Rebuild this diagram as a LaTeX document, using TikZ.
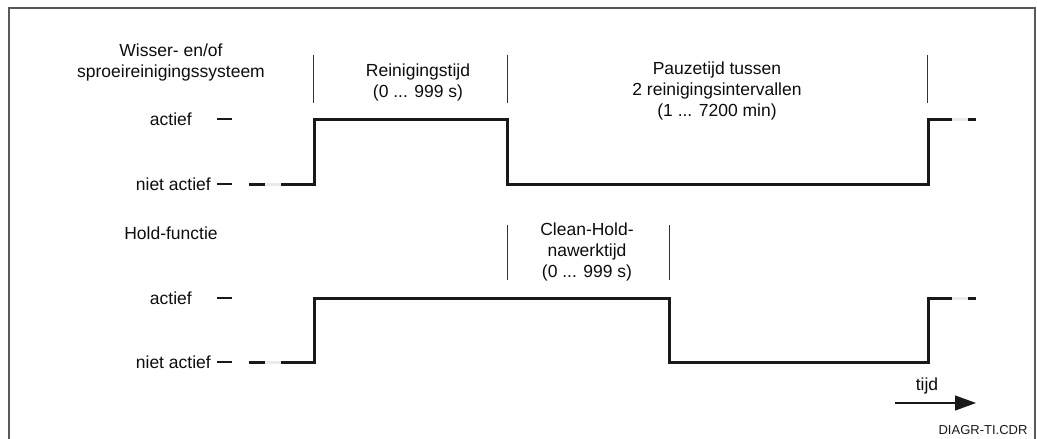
\documentclass[tikz,border=0pt]{standalone}
\usepackage{fontspec}
\setmainfont{Liberation Sans}
\usetikzlibrary{arrows.meta}
\begin{document}
\begin{tikzpicture}[x=1pt,y=-1pt,
  txt/.style={inner sep=0pt,font=\fontsize{17.5}{21}\selectfont,text=black!95,align=center},
  small/.style={inner sep=0pt,font=\fontsize{13}{15}\selectfont,text=black!90},
  sig/.style={line width=3pt,black!90,line join=miter},
  faint/.style={line width=3pt,black!8},
  sep/.style={line width=1pt,black!80},
  tick/.style={line width=1.2pt,black!90},
  frame/.style={line width=1.6pt,black!65}]
\useasboundingbox (0,0) rectangle (1037,439);
% frame (open at bottom)
\coordinate (fbl) at (9,440);
\coordinate (ftl) at (9,8);
\coordinate (ftr) at (1035,8);
\coordinate (fbr) at (1035,440);
\draw[frame] (fbl) -- (ftl) -- (ftr) -- (fbr);

% ---------- top diagram ----------
\node[txt] (wisser) at (171,62) {Wisser- en/of\\sproeireinigingssysteem};
\node[txt,anchor=east] (a1) at (192,119) {actief};
\node[txt,anchor=east] (n1) at (211,184) {niet actief};
\coordinate (a1t1) at (217,119); \coordinate (a1t2) at (232,119);
\coordinate (n1t1) at (217,184); \coordinate (n1t2) at (232,184);
\draw[tick] (a1t1) -- (a1t2);
\draw[tick] (n1t1) -- (n1t2);

\node[txt] (rein) at (418,82) {Reinigingstijd\\(0 ... 999 s)};
\node[txt] (pauze) at (717,91) {Pauzetijd tussen\\2 reinigingsintervallen\\(1 ... 7200 min)};

\coordinate (s1a) at (313,55); \coordinate (s1b) at (313,103);
\coordinate (s2a) at (507,55); \coordinate (s2b) at (507,103);
\coordinate (s3a) at (927,55); \coordinate (s3b) at (927,103);
\draw[sep] (s1a) -- (s1b);
\draw[sep] (s2a) -- (s2b);
\draw[sep] (s3a) -- (s3b);

\coordinate (t0) at (249,184);
\coordinate (t1) at (265,184);
\coordinate (t2) at (281,184);
\coordinate (t3) at (314,184);
\coordinate (t4) at (314,119);
\coordinate (t5) at (507,119);
\coordinate (t6) at (507,184);
\coordinate (t7) at (928,184);
\coordinate (t8) at (928,119);
\coordinate (t9) at (952,119);
\coordinate (t10) at (968,119);
\coordinate (t11) at (976,119);
\draw[faint] (t1) -- (t2);
\draw[faint] (t9) -- (t10);
\draw[sig] (t0) -- (t1);
\draw[sig] (t2) -- (t3) -- (t4) -- (t5) -- (t6) -- (t7) -- (t8) -- (t9);
\draw[sig] (t10) -- (t11);

% ---------- bottom diagram ----------
\node[txt] (hold) at (171,233) {Hold-functie};
\node[txt,anchor=east] (a2) at (192,298) {actief};
\node[txt,anchor=east] (n2) at (211,362) {niet actief};
\coordinate (a2t1) at (217,298); \coordinate (a2t2) at (232,298);
\coordinate (n2t1) at (217,362); \coordinate (n2t2) at (232,362);
\draw[tick] (a2t1) -- (a2t2);
\draw[tick] (n2t1) -- (n2t2);

\node[txt] (clean) at (587,252) {Clean-Hold-\\nawerktijd\\(0 ... 999 s)};
\coordinate (s4a) at (507,225); \coordinate (s4b) at (507,280);
\coordinate (s5a) at (669,225); \coordinate (s5b) at (669,280);
\draw[sep] (s4a) -- (s4b);
\draw[sep] (s5a) -- (s5b);

\coordinate (b0) at (249,362);
\coordinate (b1) at (265,362);
\coordinate (b2) at (281,362);
\coordinate (b3) at (314,362);
\coordinate (b4) at (314,298);
\coordinate (b5) at (669,298);
\coordinate (b6) at (669,362);
\coordinate (b7) at (928,362);
\coordinate (b8) at (928,298);
\coordinate (b9) at (952,298);
\coordinate (b10) at (968,298);
\coordinate (b11) at (976,298);
\draw[faint] (b1) -- (b2);
\draw[faint] (b9) -- (b10);
\draw[sig] (b0) -- (b1);
\draw[sig] (b2) -- (b3) -- (b4) -- (b5) -- (b6) -- (b7) -- (b8) -- (b9);
\draw[sig] (b10) -- (b11);

% ---------- time arrow ----------
\coordinate (ta) at (895,403);
\coordinate (tb) at (976,403);
\draw[line width=1.2pt,black!90,-{Triangle[length=21pt,width=15pt]}] (ta) -- (tb);
\node[txt] (tijd) at (927,386) {tijd};
\node[small] (diagr) at (983,430) {DIAGR-TI.CDR};
\end{tikzpicture}
\end{document}
